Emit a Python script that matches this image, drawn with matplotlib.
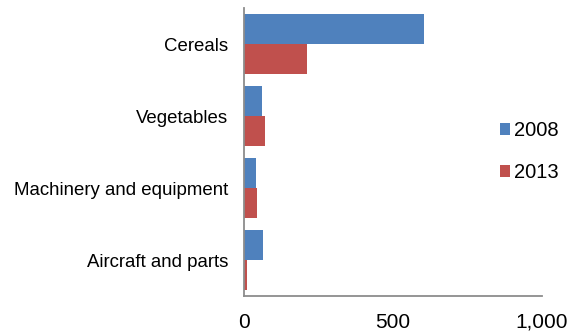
import matplotlib.pyplot as plt
import numpy as np

plt.rcParams['font.family'] = ['Liberation Sans', 'DejaVu Sans']

categories = ["Cereals", "Vegetables", "Machinery and equipment", "Aircraft and parts"]
values_2008 = [604, 61, 39, 65]
values_2013 = [212, 70, 44, 9]
series_labels = ["2008", "2013"]
xticks = [0, 500, 1000]
xtick_labels = ["0", "500", "1,000"]


def main():
    fig = plt.figure(figsize=(5.77, 3.35), dpi=100)
    ax = fig.add_axes([0.4229, 0.1164, 0.5156, 0.8597])

    # categories from top to bottom
    pos = np.arange(len(categories))[::-1]
    h = 30 / 72

    ax.barh(pos + h / 2, values_2008, height=h, color="#4F81BD", label=series_labels[0])
    ax.barh(pos - h / 2, values_2013, height=h, color="#C0504D", label=series_labels[1])

    ax.set_ylim(-0.5, len(categories) - 0.5)
    ax.set_xlim(0, 1000)
    ax.set_yticks(pos)
    ax.set_yticklabels(categories)
    ax.set_xticks(xticks)
    ax.set_xticklabels(xtick_labels)

    ax.tick_params(axis="y", length=0, pad=11.5, labelsize=13.4)
    ax.tick_params(axis="x", length=0, pad=12, labelsize=15)

    for s in ["top", "right"]:
        ax.spines[s].set_visible(False)
    for s in ["left", "bottom"]:
        ax.spines[s].set_color("#8C8C8C")
        ax.spines[s].set_linewidth(1.3)

    fig.legend(loc="center left", bbox_to_anchor=(0.867, 0.547), frameon=False,
               fontsize=14.5, handlelength=0.5, handleheight=0.5,
               handletextpad=0.2, labelspacing=1.15, borderpad=0, borderaxespad=0)

    fig.savefig("out.png", dpi=100)


if __name__ == "__main__":
    main()
